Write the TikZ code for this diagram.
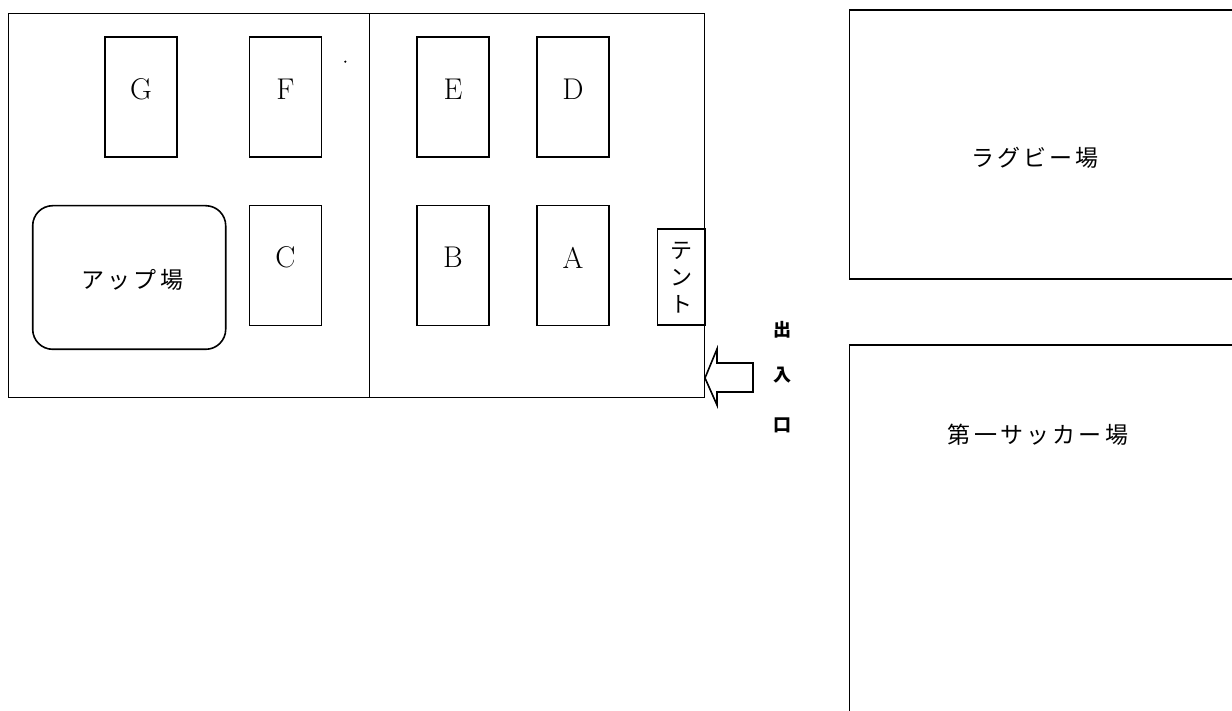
\documentclass[tikz,border=0pt]{standalone}
\usepackage{fontspec}
\newfontfamily\jp[LetterSpace=14]{Noto Sans CJK JP}
\newfontfamily\jpg{Noto Sans CJK JP}
\begin{document}
\begin{tikzpicture}[x=1pt,y=-1pt,
  every node/.style={inner sep=0pt,outer sep=0pt},
  frame/.style={draw,line width=1.6pt,rectangle,anchor=north west},
  booth/.style={draw,line width=1.6pt,rectangle,minimum width=72pt,minimum height=120pt},
  boothlabel/.style={font=\fontsize{30}{32}\selectfont},
  jplabel/.style={font=\fontsize{23}{25}\selectfont\jp},
  gate/.style={font=\fontsize{18}{20}\selectfont\jpg\bfseries}]
\useasboundingbox (0,0) rectangle (1232,711);
% outer ground
\node[frame,minimum width=696pt,minimum height=384pt] (ground) at (8.5,13.5) {};
\coordinate (divtop) at (369.5,13.5);
\coordinate (divbot) at (369.5,397.5);
\draw[line width=1.6pt] (divtop) -- (divbot);
% booths
\node[booth] (G) at (141,97) {};
\node[booth] (F) at (285.5,97) {};
\node[booth] (C) at (285.5,265.7) {};
\node[booth] (E) at (453,97) {};
\node[booth] (D) at (573,97) {};
\node[booth] (B) at (453,265.7) {};
\node[booth] (A) at (573,265.7) {};
\foreach \n in {G,F,C,E,D,B,A}{
  \node[boothlabel] (\n l) at ([yshift=8pt]\n.center) {\n};
}
% warm-up area
\node[draw,line width=1.6pt,rounded corners=20pt,minimum width=193pt,minimum height=143.6pt] (up) at (129.2,277.5) {};
\node[jplabel] (upl) at ([xshift=3pt,yshift=-2pt]up.center) {アップ場};
% dot
\fill (345.3,61.7) circle (1.2pt);
% tent
\node[draw,line width=1.6pt,rectangle,minimum width=47.7pt,minimum height=96pt] (tent) at (681.2,277.3) {};
\node[font=\fontsize{22}{24}\selectfont\jpg,align=center] (tentl) at (tent.center) {テ\\[3pt]ン\\[3pt]ト};
% entrance arrow
\coordinate (tip) at (705,378);
\draw[line width=1.6pt] (tip) -- (717,349) -- (717,363) -- (753,363) -- (753,392) -- (717,392) -- (717,405) -- cycle;
\node[gate] (g1) at (782,330) {出};
\node[gate] (g2) at (782,375) {入};
\node[gate] (g3) at (782,425) {口};
% fields
\node[frame,minimum width=420pt,minimum height=269.3pt] (rugby) at (849.3,10) {};
\node[jplabel] (rugbyl) at (1035,158) {ラグビー場};
\node[frame,minimum width=420pt,minimum height=400pt] (soccer) at (849.3,345) {};
\node[jplabel] (soccerl) at (1038,435) {第一サッカー場};
\end{tikzpicture}
\end{document}
